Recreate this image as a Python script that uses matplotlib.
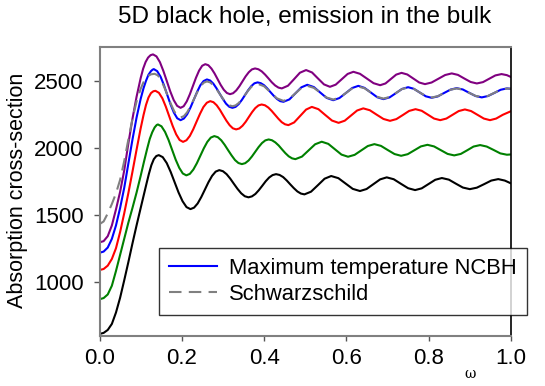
import matplotlib
matplotlib.use("Agg")
import matplotlib.pyplot as plt

plt.rcParams['font.family'] = ['Liberation Sans', 'DejaVu Sans']

# values (omega, absorption cross-section)
w_black = [0, 0.01, 0.02, 0.03, 0.04, 0.05, 0.06, 0.07, 0.08, 0.09, 0.1, 0.107, 0.114, 0.12,
           0.126, 0.132, 0.138, 0.144,
           0.1536, 0.1633, 0.1729, 0.1825, 0.1921, 0.2018, 0.2114, 0.221,
           0.2298, 0.2385, 0.2473, 0.256, 0.2648, 0.2735, 0.2823, 0.291,
           0.2999, 0.3088, 0.3176, 0.3265, 0.3354, 0.3443, 0.3531, 0.362,
           0.3704, 0.3788, 0.3871, 0.3955, 0.4039, 0.4123, 0.4206, 0.429,
           0.4376, 0.4463, 0.4549, 0.4635, 0.4721, 0.4808, 0.4894, 0.498,
           0.514, 0.5305, 0.547, 0.563, 0.5805, 0.598, 0.6155, 0.633,
           0.649, 0.6655, 0.682, 0.698, 0.715, 0.7325, 0.75, 0.767, 0.783, 0.7995, 0.816, 0.832,
           0.849, 0.866, 0.883, 0.90, 0.917, 0.9345, 0.952, 0.969, 0.985, 1.0]
cs_black = [610, 618, 640, 685, 770, 880, 1010, 1145, 1285, 1420, 1550, 1640, 1730, 1805,
            1870, 1915, 1938, 1945,
            1930, 1886, 1820, 1743, 1666, 1601, 1557, 1542,
            1553, 1584, 1632, 1687, 1743, 1790, 1822, 1833,
            1825, 1803, 1770, 1731, 1693, 1660, 1638, 1630,
            1637, 1655, 1683, 1716, 1750, 1778, 1796, 1803,
            1797, 1781, 1756, 1727, 1699, 1674, 1658, 1652,
            1672, 1720, 1769, 1789, 1773, 1733, 1693, 1677,
            1692, 1728, 1764, 1779, 1765, 1731, 1698, 1684, 1697, 1729, 1761, 1774,
            1762, 1732, 1703, 1691, 1702, 1728, 1755, 1766, 1755, 1734]

w_green = [0, 0.01, 0.02, 0.03, 0.04, 0.05, 0.06, 0.07, 0.08, 0.09, 0.1, 0.108, 0.116, 0.122,
           0.128, 0.134, 0.139, 0.142,
           0.1506, 0.1593, 0.1679, 0.1765, 0.1851, 0.1938, 0.2024, 0.211,
           0.2195, 0.228, 0.2365, 0.245, 0.2535, 0.262, 0.2705, 0.279,
           0.2874, 0.2958, 0.3041, 0.3125, 0.3209, 0.3293, 0.3376, 0.346,
           0.3541, 0.3623, 0.3704, 0.3785, 0.3866, 0.3948, 0.4029, 0.411,
           0.4191, 0.4273, 0.4354, 0.4435, 0.4516, 0.4598, 0.4679, 0.476,
           0.492, 0.508, 0.524, 0.540, 0.556, 0.572, 0.588, 0.604,
           0.62, 0.636, 0.652, 0.668, 0.684, 0.7005, 0.717, 0.733, 0.749, 0.765, 0.781, 0.797,
           0.813, 0.8295, 0.846, 0.862, 0.878, 0.8935, 0.909, 0.925, 0.941, 0.9575, 0.974, 0.99, 1.0]
cs_green = [869, 878, 905, 970, 1080, 1200, 1320, 1440, 1550, 1665, 1790, 1895, 1995, 2065,
            2115, 2152, 2170, 2174,
            2160, 2118, 2057, 1984, 1911, 1850, 1808, 1794,
            1805, 1837, 1884, 1940, 1996, 2044, 2076, 2087,
            2079, 2056, 2022, 1982, 1943, 1908, 1886, 1878,
            1885, 1905, 1935, 1970, 2005, 2035, 2055, 2062,
            2056, 2040, 2017, 1988, 1960, 1936, 1921, 1915,
            1934, 1980, 2026, 2045, 2029, 1989, 1949, 1933,
            1947, 1980, 2013, 2027, 2014, 1983, 1953, 1940, 1952, 1981, 2010, 2022,
            2010, 1982, 1954, 1943, 1954, 1981, 2009, 2020, 2009, 1984, 1958, 1948, 1950]

w_red = [0, 0.01, 0.02, 0.03, 0.04, 0.05, 0.06, 0.07, 0.08, 0.09, 0.1, 0.107, 0.113, 0.119,
         0.125, 0.131, 0.136,
         0.1444, 0.1528, 0.1611, 0.1695, 0.1779, 0.1863, 0.1946, 0.203,
         0.2113, 0.2195, 0.2278, 0.236, 0.2443, 0.2525, 0.2608, 0.269,
         0.2769, 0.2848, 0.2926, 0.3005, 0.3084, 0.3163, 0.3241, 0.332,
         0.3398, 0.3475, 0.3553, 0.363, 0.3708, 0.3785, 0.3863, 0.394,
         0.4021, 0.4103, 0.4184, 0.4265, 0.4346, 0.4428, 0.4509, 0.459,
         0.473, 0.4875, 0.502, 0.516, 0.532, 0.5485, 0.565, 0.581,
         0.596, 0.611, 0.626, 0.641, 0.657, 0.6735, 0.69, 0.706, 0.7215, 0.737, 0.7525, 0.768,
         0.783, 0.798, 0.813, 0.828, 0.843, 0.858, 0.873, 0.888, 0.903, 0.9185, 0.934, 0.949,
         0.964, 0.98, 1.0]
cs_red = [1087, 1095, 1120, 1170, 1250, 1370, 1510, 1660, 1820, 1985, 2145, 2245, 2320, 2375,
          2408, 2422, 2425,
          2410, 2369, 2307, 2234, 2162, 2100, 2058, 2044,
          2056, 2088, 2138, 2196, 2254, 2304, 2336, 2348,
          2340, 2317, 2283, 2242, 2202, 2168, 2145, 2137,
          2144, 2164, 2194, 2230, 2266, 2296, 2316, 2323,
          2317, 2300, 2275, 2246, 2217, 2191, 2175, 2169,
          2189, 2237, 2285, 2305, 2288, 2245, 2203, 2186,
          2202, 2240, 2278, 2294, 2280, 2247, 2215, 2201, 2214, 2244, 2275, 2288,
          2276, 2247, 2218, 2206, 2218, 2246, 2274, 2286, 2274, 2246, 2218, 2206,
          2218, 2246, 2273]

w_blue = [0, 0.01, 0.02, 0.03, 0.04, 0.05, 0.06, 0.07, 0.08, 0.09, 0.1, 0.107, 0.113, 0.119,
          0.125, 0.129, 0.132,
          0.1401, 0.1483, 0.1564, 0.1645, 0.1726, 0.1808, 0.1889, 0.197,
          0.205, 0.213, 0.221, 0.229, 0.237, 0.245, 0.253, 0.261,
          0.2688, 0.2765, 0.2843, 0.292, 0.2998, 0.3075, 0.3153, 0.323,
          0.3306, 0.3383, 0.3459, 0.3535, 0.3611, 0.3688, 0.3764, 0.384,
          0.3919, 0.3998, 0.4076, 0.4155, 0.4234, 0.4313, 0.4391, 0.447,
          0.4615, 0.476, 0.4905, 0.505, 0.521, 0.5365, 0.552, 0.568,
          0.583, 0.5985, 0.614, 0.629, 0.644, 0.6595, 0.675, 0.69, 0.705, 0.72, 0.735, 0.75,
          0.764, 0.7785, 0.793, 0.807, 0.822, 0.8375, 0.853, 0.868, 0.883, 0.8985, 0.914, 0.929,
          0.944, 0.9595, 0.975, 0.99, 1.0]
cs_blue = [1216, 1225, 1255, 1320, 1420, 1550, 1700, 1880, 2060, 2225, 2365, 2445, 2500, 2545,
           2572, 2583, 2587,
           2572, 2531, 2469, 2396, 2324, 2262, 2220, 2206,
           2218, 2250, 2300, 2358, 2416, 2466, 2498, 2510,
           2502, 2479, 2444, 2404, 2364, 2329, 2306, 2298,
           2305, 2326, 2357, 2393, 2429, 2460, 2481, 2488,
           2482, 2467, 2443, 2415, 2388, 2364, 2348, 2343,
           2361, 2406, 2451, 2470, 2453, 2412, 2372, 2355,
           2371, 2408, 2446, 2462, 2447, 2412, 2377, 2363, 2376, 2407, 2439, 2452,
           2440, 2412, 2384, 2373, 2383, 2409, 2434, 2445, 2435, 2410, 2386, 2376,
           2386, 2409, 2433, 2443, 2440]

w_schw = [0, 0.01, 0.02, 0.03, 0.04, 0.05, 0.06, 0.07, 0.08, 0.09, 0.1, 0.107, 0.113, 0.119,
          0.125, 0.134,
          0.1419, 0.1498, 0.1576, 0.1655, 0.1734, 0.1813, 0.1891, 0.197,
          0.205, 0.213, 0.221, 0.229, 0.237, 0.245, 0.253, 0.261,
          0.2688, 0.2765, 0.2843, 0.292, 0.2998, 0.3075, 0.3153, 0.323,
          0.3306, 0.3383, 0.3459, 0.3535, 0.3611, 0.3688, 0.3764, 0.384,
          0.4, 0.4155, 0.431, 0.447, 0.4615, 0.476, 0.4905, 0.505, 0.521, 0.5365, 0.552, 0.568,
          0.583, 0.5985, 0.614, 0.629, 0.644, 0.6595, 0.675, 0.69, 0.705, 0.72, 0.735, 0.75,
          0.764, 0.7785, 0.793, 0.807, 0.822, 0.8375, 0.853, 0.868, 0.883, 0.8985, 0.914, 0.929,
          0.944, 0.9595, 0.975, 0.99, 1.0]
cs_schw = [1430, 1450, 1510, 1580, 1660, 1760, 1900, 2060, 2215, 2345, 2440, 2490, 2520, 2538,
           2548, 2552,
           2540, 2504, 2451, 2389, 2327, 2274, 2238, 2226,
           2236, 2265, 2309, 2360, 2412, 2456, 2485, 2495,
           2488, 2468, 2438, 2402, 2367, 2337, 2317, 2310,
           2316, 2334, 2362, 2394, 2426, 2454, 2472, 2478,
           2459, 2414, 2369, 2350, 2366, 2406, 2446, 2462, 2447, 2411, 2375, 2360,
           2374, 2408, 2443, 2457, 2444, 2412, 2380, 2367, 2379, 2408, 2438, 2450,
           2439, 2412, 2386, 2375, 2385, 2409, 2433, 2443, 2433, 2410, 2387, 2378,
           2387, 2410, 2433, 2442, 2440]

w_purple = [0, 0.01, 0.02, 0.03, 0.04, 0.05, 0.06, 0.07, 0.08, 0.09, 0.1, 0.106, 0.112, 0.118,
            0.124, 0.13,
            0.1384, 0.1468, 0.1551, 0.1635, 0.1719, 0.1803, 0.1886, 0.197,
            0.2045, 0.212, 0.2195, 0.227, 0.2345, 0.242, 0.2495, 0.257,
            0.2645, 0.272, 0.2795, 0.287, 0.2945, 0.302, 0.3095, 0.317,
            0.3246, 0.3323, 0.3399, 0.3475, 0.3551, 0.3628, 0.3704, 0.378,
            0.3861, 0.3943, 0.4024, 0.4105, 0.4186, 0.4268, 0.4349, 0.443,
            0.458, 0.4725, 0.487, 0.502, 0.5165, 0.531, 0.5455, 0.56,
            0.574, 0.5885, 0.603, 0.617, 0.633, 0.6495, 0.666, 0.682, 0.695, 0.708, 0.721, 0.734,
            0.748, 0.7625, 0.777, 0.791, 0.807, 0.8235, 0.84, 0.856, 0.871, 0.8865, 0.902, 0.917,
            0.932, 0.947, 0.962, 0.977, 0.99, 1.0]
cs_purple = [1294, 1303, 1340, 1420, 1540, 1670, 1830, 2030, 2215, 2380, 2520, 2590, 2640, 2673,
             2691, 2697,
             2682, 2639, 2574, 2498, 2421, 2356, 2313, 2298,
             2310, 2346, 2399, 2461, 2523, 2576, 2612, 2624,
             2616, 2591, 2555, 2512, 2469, 2433, 2409, 2400,
             2407, 2428, 2459, 2496, 2533, 2564, 2585, 2592,
             2586, 2570, 2546, 2518, 2489, 2465, 2449, 2443,
             2463, 2511, 2560, 2580, 2562, 2517, 2473, 2455,
             2471, 2511, 2551, 2567, 2552, 2517, 2482, 2467, 2480, 2513, 2546, 2559,
             2547, 2517, 2487, 2475, 2487, 2515, 2543, 2555, 2544, 2517, 2491, 2480,
             2490, 2515, 2540, 2550, 2542, 2528]

fig = plt.figure(figsize=(5.45, 3.86), dpi=100)
ax = fig.add_axes([0.1826, 0.1303, 0.755, 0.7472])

lw = 1.5
ax.plot(w_black, cs_black, color='black', lw=lw)
ax.plot(w_green, cs_green, color='#008000', lw=lw)
ax.plot(w_red, cs_red, color='red', lw=lw)
ax.plot(w_purple, cs_purple, color='#800080', lw=lw)
blue, = ax.plot(w_blue, cs_blue, color='blue', lw=lw, label='Maximum temperature NCBH')
schw, = ax.plot(w_schw, cs_schw, color='gray', lw=lw, dashes=(6, 3.5),
                label='Schwarzschild')

ax.set_xlim(0, 1)
ax.set_ylim(597, 2750)
ax.set_xticks([0, 0.2, 0.4, 0.6, 0.8, 1.0])
ax.set_xticklabels(['0.0', '0.2', '0.4', '0.6', '0.8', '1.0'])
ax.set_yticks([1000, 1500, 2000, 2500])
ax.tick_params(labelsize=16, width=1, color='#555555', direction='out')
ax.tick_params(axis='x', length=3.5, pad=5)
ax.tick_params(axis='y', length=4.3, pad=7)
for s in ['left', 'bottom', 'top']:
    ax.spines[s].set_color('gray')
    ax.spines[s].set_linewidth(1.5)
ax.spines['right'].set_color('black')
ax.spines['right'].set_linewidth(1.2)

fig.text(18 / 545, 1 - 190 / 386, 'Absorption cross-section', fontsize=15.5,
         rotation=90, ha='center', va='center')
fig.text(305 / 545, 0.956, '5D black hole, emission in the bulk', fontsize=17.5,
         ha='center', va='center')
fig.text(470 / 545, 1 - 374 / 386, '\u03c9', fontsize=10, family='DejaVu Serif',
         ha='center', va='center')

leg = fig.legend(handles=[blue, schw], loc='upper left',
                 bbox_to_anchor=(159 / 545, 1 - 248 / 386), fontsize=15.8,
                 frameon=True, fancybox=False, handlelength=2.2, handletextpad=0.55,
                 borderpad=0.45, labelspacing=0.22, borderaxespad=0)
leg.get_frame().set_edgecolor('black')
leg.get_frame().set_linewidth(1.0)

fig.savefig('out.png', dpi=100)
